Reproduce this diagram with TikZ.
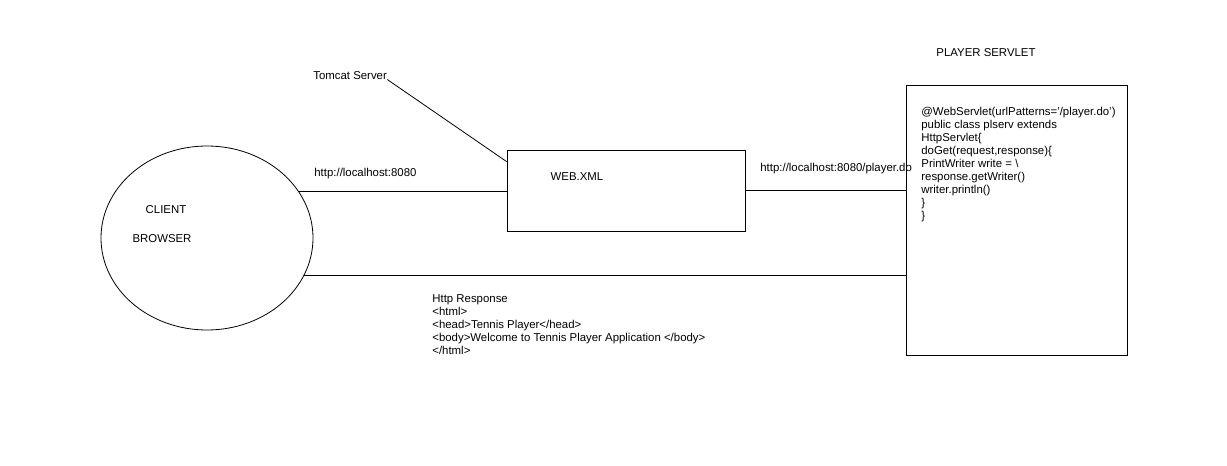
\documentclass[tikz,border=0pt]{standalone}
\usepackage{fontspec}
\setmainfont{Liberation Sans}
\usepackage{tikz}
\usetikzlibrary{shapes.geometric}
\newcommand{\TextSize}{\fontsize{11.4}{13}\selectfont}

\begin{document}
\begin{tikzpicture}[x=1pt,y=-1pt,line width=0.8pt,
  every node/.style={font=\TextSize,inner sep=0pt},
  plain label/.style={anchor=base west}]
\useasboundingbox (0,0) rectangle (1227,466);

\node[draw,ellipse,minimum width=212pt,minimum height=184pt] (browser) at (207,238) {};% Client
\node[draw,minimum width=238pt,minimum height=81pt] (webxml) at (626,190.5) {};% Web.xml
\node[draw,minimum width=221pt,minimum height=270pt] (servlet) at (1016.5,220) {};% Servlet

\node[anchor=base] (client) at (166,213) {CLIENT};
\node[anchor=base] (browsername) at (162,242) {BROWSER};
\node[anchor=base] (webxmlname) at (577,180) {WEB.XML};
\node[anchor=base] (servletname) at (986,56) {PLAYER SERVLET};

\node[plain label] (tomcat) at (313,79) {Tomcat Server};
\node[plain label] (request) at (314,176) {http://localhost:8080};
\node[plain label] (dispatch) at (760,171) {http://localhost:8080/player.do};

\node[anchor=north west,align=left] (code) at (921,106.5) {@WebServlet(urlPatterns='/player.do')\\
public class plserv extends\\
HttpServlet\{\\
doGet(request,response)\{\\
PrintWriter write = \textbackslash\\
response.getWriter()\\
writer.println()\\
\}\\
\}};

\node[anchor=north west,align=left] (response) at (432,294.5) {Http Response\\
<html>\\
<head>Tennis Player</head>\\
<body>Welcome to Tennis Player Application </body>\\
</html>};

\draw (browser.27) -- (browser.27 -| webxml.west);% request
\draw (webxml.east) -- (webxml.east -| servlet.west);% forward
\draw (servlet.west |- browser.-21) -- (browser.-21);% response
\draw (tomcat.south east) -- ([yshift=-12pt]webxml.north west);
\end{tikzpicture}
\end{document}
